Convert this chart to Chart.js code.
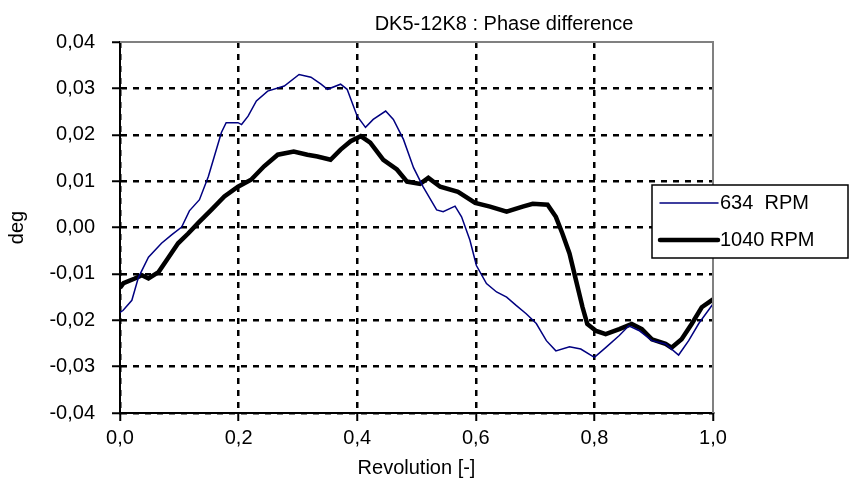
<!DOCTYPE html>
<html lang="en">

  <head>
    <meta charset="UTF-8">
    <title>DK5-12K8 : Phase difference</title>
    <script src="https://cdn.jsdelivr.net/npm/chart.js"></script>
    <style>
      body { margin: 0; background: #fff; }
      .chart-container { width: 850px; height: 500px; }
    </style>
  </head>

  <body>
    <div class="chart-container">
      <canvas id="phaseChart" width="850" height="500"></canvas>
    </div>

    <script>
      const chartTitle = 'DK5-12K8 : Phase difference'
      const seriesLabels = ['634  RPM', '1040 RPM']

      // 634 RPM
      const rev634 = [0.000, 0.005, 0.020, 0.031, 0.048, 0.070, 0.087, 0.104, 0.117, 0.134,
        0.149, 0.159, 0.171, 0.179, 0.199, 0.205, 0.216, 0.230, 0.249, 0.277,
        0.302, 0.322, 0.339, 0.350, 0.372, 0.383, 0.400, 0.414, 0.427, 0.448,
        0.461, 0.478, 0.495, 0.511, 0.534, 0.545, 0.565, 0.576, 0.590, 0.601,
        0.618, 0.635, 0.652, 0.668, 0.685, 0.702, 0.719, 0.735, 0.758, 0.777,
        0.800, 0.819, 0.842, 0.858, 0.875, 0.897, 0.920, 0.942, 0.959, 0.976, 1.000]
      const phase634 = [-0.0183, -0.0179, -0.0157, -0.0108, -0.0064, -0.0034, -0.0016, 0.0001, 0.0036, 0.0060,
        0.0110, 0.0153, 0.0205, 0.0226, 0.0226, 0.0222, 0.0240, 0.0273, 0.0294, 0.0305,
        0.0330, 0.0324, 0.0309, 0.0298, 0.0309, 0.0298, 0.0240, 0.0216, 0.0233, 0.0251,
        0.0233, 0.0190, 0.0129, 0.0088, 0.0038, 0.0034, 0.0046, 0.0023, -0.0027, -0.0082,
        -0.0121, -0.0139, -0.0150, -0.0168, -0.0186, -0.0207, -0.0244, -0.0266, -0.0257, -0.0262,
        -0.0280, -0.0259, -0.0233, -0.0212, -0.0222, -0.0244, -0.0251, -0.0275, -0.0244, -0.0207, -0.0165]

      // 1040 RPM
      const rev1040 = [0.000, 0.006, 0.025, 0.037, 0.048, 0.065, 0.082, 0.098, 0.115, 0.132,
        0.154, 0.176, 0.199, 0.221, 0.243, 0.266, 0.293, 0.316, 0.333, 0.355,
        0.372, 0.389, 0.406, 0.422, 0.444, 0.467, 0.484, 0.506, 0.520, 0.540,
        0.570, 0.599, 0.624, 0.652, 0.679, 0.696, 0.721, 0.735, 0.746, 0.758,
        0.769, 0.780, 0.788, 0.803, 0.819, 0.842, 0.863, 0.880, 0.897, 0.920,
        0.930, 0.947, 0.964, 0.981, 1.000]
      const phase1040 = [-0.0130, -0.0120, -0.0110, -0.0103, -0.0110, -0.0096, -0.0064, -0.0034, -0.0013, 0.0010,
        0.0038, 0.0067, 0.0088, 0.0103, 0.0132, 0.0157, 0.0164, 0.0157, 0.0153, 0.0146,
        0.0168, 0.0186, 0.0197, 0.0183, 0.0146, 0.0125, 0.0099, 0.0094, 0.0107, 0.0088,
        0.0077, 0.0053, 0.0045, 0.0034, 0.0045, 0.0051, 0.0049, 0.0023, -0.0013, -0.0056,
        -0.0114, -0.0172, -0.0208, -0.0223, -0.0230, -0.0219, -0.0208, -0.0219, -0.0241, -0.0251,
        -0.0259, -0.0241, -0.0208, -0.0172, -0.0155]

      const toPoints = (xs, ys) => xs.map((x, i) => ({ x: x, y: ys[i] }))
      const fontFamily = 'Arial, "Liberation Sans", sans-serif'

      // title, frame (top/right grey) and legend box drawn by hand
      const excelLook = {
        id: 'excelLook',
        afterDraw(chart) {
          const ctx = chart.ctx
          const a = chart.chartArea
          ctx.save()
          // grey frame top + right
          ctx.strokeStyle = '#808080'
          ctx.lineWidth = 2
          ctx.beginPath()
          ctx.moveTo(a.left, a.top)
          ctx.lineTo(a.right, a.top)
          ctx.lineTo(a.right, a.bottom)
          ctx.stroke()

          // title
          ctx.fillStyle = '#000'
          ctx.font = '20px ' + fontFamily
          ctx.textAlign = 'center'
          ctx.textBaseline = 'middle'
          ctx.fillText(chartTitle, 504, 24)

          // legend
          const bx = 652, by = 185, bw = 196, bh = 73
          ctx.fillStyle = '#fff'
          ctx.fillRect(bx, by, bw, bh)
          ctx.strokeStyle = '#000'
          ctx.lineWidth = 1.5
          ctx.strokeRect(bx, by, bw, bh)
          const rows = [203, 240]
          chart.data.datasets.forEach((ds, i) => {
            ctx.strokeStyle = ds.borderColor
            ctx.lineWidth = ds.borderWidth
            ctx.lineCap = 'round'
            ctx.beginPath()
            ctx.moveTo(660, rows[i])
            ctx.lineTo(718, rows[i])
            ctx.stroke()
            ctx.fillStyle = '#000'
            ctx.textAlign = 'left'
            ctx.fillText(ds.label, 720, rows[i])
          })
          ctx.restore()
        }
      }

      const gridColor = (edge) => (c) => (c.tick && c.tick.value === edge ? 'rgba(0,0,0,0)' : '#000')

      const ctx = document.getElementById('phaseChart').getContext('2d')
      new Chart(ctx, {
        type: 'line',
        data: {
          datasets: [
            {
              label: seriesLabels[0],
              data: toPoints(rev634, phase634),
              borderColor: '#000080',
              borderWidth: 1.5,
              pointRadius: 0,
              tension: 0
            },
            {
              label: seriesLabels[1],
              data: toPoints(rev1040, phase1040),
              borderColor: '#000',
              borderWidth: 4.5,
              pointRadius: 0,
              tension: 0
            }
          ]
        },
        plugins: [excelLook],
        options: {
          responsive: false,
          animation: false,
          layout: { padding: { top: 42, right: 137, left: 0, bottom: 0 } },
          plugins: {
            legend: { display: false },
            title: { display: false },
            tooltip: { enabled: false }
          },
          scales: {
            x: {
              type: 'linear',
              min: 0,
              max: 1,
              afterFit: s => { s.height = 87 },
              ticks: {
                stepSize: 0.2,
                color: '#000',
                padding: 5,
                font: { size: 20, family: fontFamily },
                maxRotation: 0,
                callback: v => v.toFixed(1).replace('.', ',')
              },
              grid: {
                color: gridColor(1),
                lineWidth: 2.5,
                tickColor: '#000',
                tickLength: 8,
                tickWidth: 2
              },
              border: { display: true, color: '#000', width: 2, dash: [6, 6] },
              title: {
                display: true,
                text: 'Revolution [-]',
                color: '#000',
                font: { size: 20, family: fontFamily },
                padding: { top: 0, bottom: 20 }
              }
            },
            y: {
              min: -0.04,
              max: 0.04,
              afterFit: s => { s.width = 120 },
              ticks: {
                stepSize: 0.01,
                color: '#000',
                padding: 17,
                font: { size: 20, family: fontFamily },
                callback: v => v.toFixed(2).replace('.', ',')
              },
              grid: {
                color: gridColor(0.04),
                lineWidth: 2.5,
                tickColor: '#000',
                tickLength: 8,
                tickWidth: 2
              },
              border: { display: true, color: '#000', width: 2, dash: [6, 6] },
              title: {
                display: true,
                text: 'deg',
                color: '#000',
                font: { size: 20, family: fontFamily },
                padding: { top: 5, bottom: 0 }
              }
            }
          }
        }
      });
    </script>
  </body>

</html>
